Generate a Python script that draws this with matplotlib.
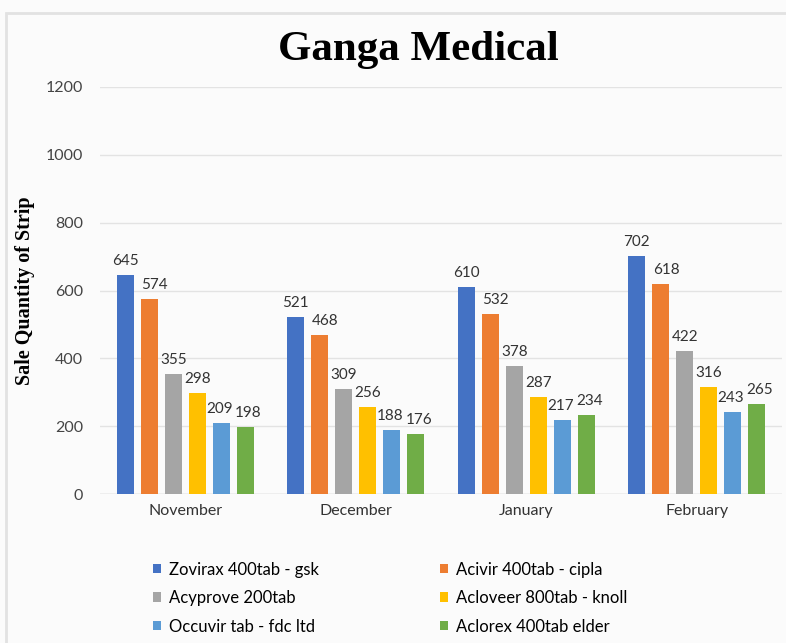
import numpy as np
import matplotlib.pyplot as plt
from matplotlib.patches import Rectangle

months = ['November', 'December', 'January', 'February']
products = ['Zovirax 400tab - gsk', 'Acivir 400tab - cipla', 'Acyprove 200tab',
            'Acloveer 800tab - knoll', 'Occuvir tab - fdc ltd', 'Aclorex 400tab elder']
zovirax = [645, 521, 610, 702]
acivir = [574, 468, 532, 618]
acyprove = [355, 309, 378, 422]
acloveer = [298, 256, 287, 316]
occuvir = [209, 188, 217, 243]
aclorex = [198, 176, 234, 265]
series = [zovirax, acivir, acyprove, acloveer, occuvir, aclorex]
colors = ['#4472C4', '#ED7D31', '#A5A5A5', '#FFC000', '#5B9BD5', '#70AD47']
# small sideways nudges for the value labels, like the original
label_dx = [0, 4, 0, 0, -1.5, 2]

sans = ['Lato', 'DejaVu Sans']
serif = ['Liberation Serif', 'DejaVu Serif']

fig = plt.figure(figsize=(7.86, 6.43), dpi=100, facecolor='#fbfbfb')
fig.patches.append(Rectangle((0.008, -0.01), 1.0, 0.99, transform=fig.transFigure,
                             facecolor='none', edgecolor='#e2e2e2', linewidth=2))
ax = fig.add_axes([100 / 786, 1 - 494 / 643, 682 / 786, 407 / 643])
ax.set_facecolor('#fbfbfb')

x = np.arange(len(months))
step = 0.141
width = 0.1
for i, (vals, name, c) in enumerate(zip(series, products, colors)):
    pos = x + (i - 2.5) * step
    bars = ax.bar(pos, vals, width, color=c, label=name, zorder=3)
    for b, v in zip(bars, vals):
        ax.annotate(str(v), (b.get_x() + b.get_width() / 2, v), xytext=(label_dx[i], 5),
                    textcoords='offset points', ha='center', va='bottom',
                    fontsize=11, family=sans, color='#333333')

ax.set_xlim(-0.5, 3.5)
ax.set_ylim(0, 1200)
ax.set_yticks(range(0, 1201, 200))
ax.set_xticks(x)
ax.set_xticklabels(months, family=sans, fontsize=11.5, color='#333333')
for lab in ax.get_yticklabels():
    lab.set_family(sans)
    lab.set_fontsize(11.5)
    lab.set_color('#444444')
ax.tick_params(length=0, pad=12)
ax.tick_params(axis='x', pad=7)
ax.grid(axis='y', color='#e3e3e3', linewidth=1, zorder=0)
for s in ax.spines.values():
    s.set_visible(False)
ax.axhline(0, color='#d0d0d0', linewidth=1, zorder=2)

ax.set_ylabel('Sale Quantity of Strip', family=serif, fontweight='bold', fontsize=14.5, labelpad=8)
fig.text(418 / 786, 1 - 50 / 643, 'Ganga Medical', ha='center', va='center',
         family=serif, fontweight='bold', fontsize=31)

# legend filled row by row like the original
handles, labels = ax.get_legend_handles_labels()
order = [0, 2, 4, 1, 3, 5]
fig.legend([handles[i] for i in order], [labels[i] for i in order],
           loc='center', bbox_to_anchor=(390 / 786, 1 - 598 / 643), ncol=2, frameon=False,
           prop={'family': sans, 'size': 12}, handlelength=0.5, handleheight=0.5,
           columnspacing=7.3, labelspacing=0.75, handletextpad=0.45)

fig.savefig('out.png', dpi=100, facecolor=fig.get_facecolor())
